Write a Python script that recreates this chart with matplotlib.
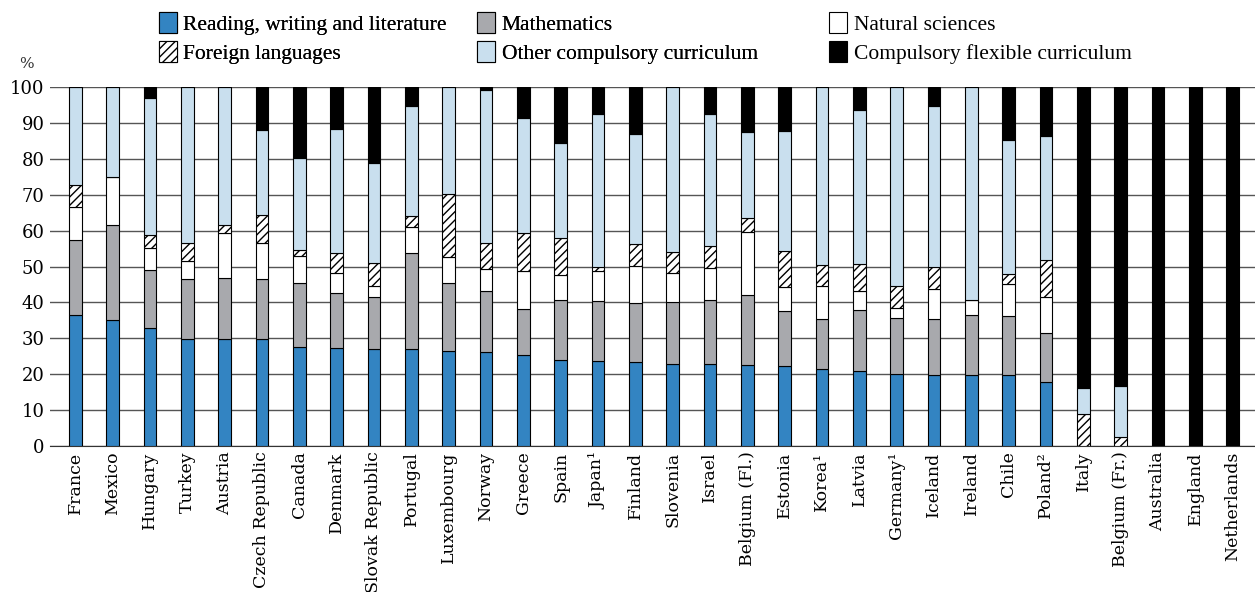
import matplotlib.pyplot as plt
import numpy as np

plt.rcParams['hatch.linewidth'] = 1.0

countries = ['France', 'Mexico', 'Hungary', 'Turkey', 'Austria', 'Czech Republic',
             'Canada', 'Denmark', 'Slovak Republic', 'Portugal', 'Luxembourg',
             'Norway', 'Greece', 'Spain', 'Japan\u00b9', 'Finland', 'Slovenia',
             'Israel', 'Belgium (Fl.)', 'Estonia', 'Korea\u00b9', 'Latvia',
             'Germany\u00b9', 'Iceland', 'Ireland', 'Chile', 'Poland\u00b2', 'Italy',
             'Belgium (Fr.)', 'Australia', 'England', 'Netherlands']

reading = [36.6, 35.0, 33.0, 29.9, 29.7, 29.7, 27.5, 27.2, 27.0, 26.9, 26.5,
           26.2, 25.3, 24.0, 23.8, 23.5, 22.9, 22.8, 22.6, 22.4, 21.4, 20.9,
           20.1, 19.9, 19.9, 19.9, 17.8, 0, 0, 0, 0, 0]
maths = [20.8, 26.7, 16.1, 16.7, 17.1, 16.8, 17.9, 15.4, 14.6, 27.0, 19.0,
         17.0, 13.0, 16.6, 16.7, 16.2, 17.3, 18.0, 19.6, 15.3, 14.0, 17.1,
         15.6, 15.6, 16.7, 16.3, 13.6, 0, 0, 0, 0, 0]
science = [9.2, 13.2, 6.1, 5.0, 12.6, 10.1, 7.6, 5.6, 3.1, 7.0, 7.1,
           6.2, 10.4, 6.9, 8.3, 10.5, 8.1, 8.9, 17.5, 6.6, 9.3, 5.2,
           2.7, 8.3, 4.1, 8.8, 10.2, 0, 0, 0, 0, 0]
languages = [6.2, 0, 3.7, 5.0, 2.3, 7.8, 1.7, 5.7, 6.3, 3.1, 17.5,
             7.1, 10.5, 10.4, 1.2, 6.2, 5.8, 5.9, 3.7, 9.9, 5.8, 7.6,
             6.2, 6.2, 0, 2.8, 10.3, 8.9, 2.4, 0, 0, 0]
other = [27.2, 25.1, 38.1, 43.4, 38.3, 23.5, 25.5, 34.5, 27.9, 30.8, 29.9,
         42.6, 32.3, 26.5, 42.4, 30.6, 45.9, 36.8, 24.2, 33.6, 49.5, 42.8,
         55.4, 44.7, 59.3, 37.4, 34.5, 7.3, 14.2, 0, 0, 0]
flexible = [0, 0, 3.0, 0, 0, 12.1, 19.8, 11.6, 21.1, 5.2, 0,
            0.9, 8.5, 15.6, 7.6, 13.0, 0, 7.6, 12.4, 12.2, 0, 6.4,
            0, 5.3, 0, 14.8, 13.6, 83.8, 83.4, 100, 100, 100]

series = [
    (reading, 'Reading, writing and literature', '#3384c2', None),
    (maths, 'Mathematics', '#a8a9ad', None),
    (science, 'Natural sciences', 'white', None),
    (languages, 'Foreign languages', 'white', '////'),
    (other, 'Other compulsory curriculum', '#c9dfee', None),
    (flexible, 'Compulsory flexible curriculum', 'black', None),
]

fig = plt.figure(figsize=(12.55, 5.92), dpi=100)
ax = fig.add_axes([0.04, 0.2466, 0.96, 0.6064])

x = np.arange(len(countries))
bottom = np.zeros(len(countries))
handles = []
for vals, label, color, hatch in series:
    b = ax.bar(x, vals, width=0.34, bottom=bottom, color=color, edgecolor='black',
               linewidth=0.8, hatch=hatch, label=label, zorder=3)
    handles.append(b)
    bottom += np.array(vals)

ax.set_xlim(-0.67, len(countries) - 0.4)
ax.set_ylim(0, 100)
ax.set_yticks(range(0, 101, 10))
ax.yaxis.grid(True, color='#555555', linewidth=1.0, zorder=0)
ax.set_axisbelow(True)
for s in ['left', 'right', 'top']:
    ax.spines[s].set_visible(False)
ax.spines['bottom'].set_color('#333333')
ax.tick_params(axis='both', length=0, pad=4)
ax.set_xticks(x)
ax.set_xticklabels(countries, rotation=90, family='DejaVu Serif', fontsize=12.5)
for t in ax.get_yticklabels():
    t.set_fontsize(13)
    t.set_family('DejaVu Serif')

fig.text(0.015, 0.885, '%', fontsize=11, family='DejaVu Serif', color='#333333')

# legend: first two columns together, third column placed on its own
leg_kw = dict(frameon=False, handlelength=0.85, handleheight=1.1, handletextpad=0.3,
              labelspacing=0.3, prop={'family': 'Liberation Serif', 'size': 15.5})
order = [0, 3, 1, 4]
leg1 = fig.legend([handles[i] for i in order], [series[i][1] for i in order],
                  loc='upper left', bbox_to_anchor=(0.111, 1.012), ncol=2,
                  columnspacing=1.4, **leg_kw)
fig.add_artist(leg1)
fig.legend([handles[2], handles[5]], [series[2][1], series[5][1]],
           loc='upper left', bbox_to_anchor=(0.645, 1.012), ncol=1, **leg_kw)

fig.savefig('out.png', dpi=100)
